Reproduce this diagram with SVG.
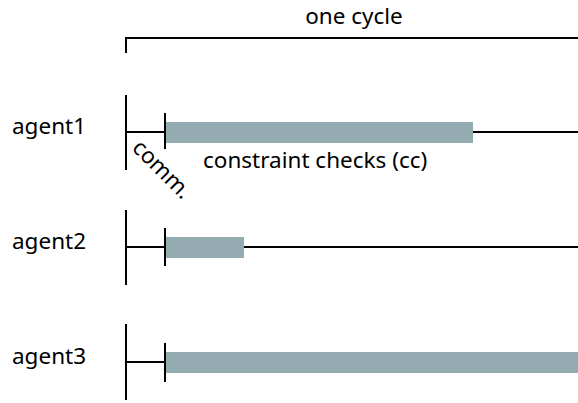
<svg xmlns="http://www.w3.org/2000/svg" width="578" height="403" viewBox="0 0 578 403">
  <style>
    .ln { stroke: #000; stroke-width: 2; fill: none; }
    .bar { fill: #94abb1; }
    .lbl { font-family: "Noto Sans", "Open Sans", sans-serif; font-size: 22.5px; fill: #000; }
  </style>
  <rect width="578" height="403" fill="#fff"/>

  <!-- cycle bracket -->
  <g id="cycle">
    <path class="ln" d="M126,53 V38 H578"/>
    <text class="lbl" x="354" y="24" text-anchor="middle">one cycle</text>
  </g>

  <g id="agent1">
    <text class="lbl" x="12" y="134">agent1</text>
    <line class="ln" x1="126" y1="95" x2="126" y2="170"/>
    <line class="ln" x1="126" y1="132" x2="165" y2="132"/>
    <line class="ln" x1="165" y1="113" x2="165" y2="149"/>
    <rect class="bar" x="166" y="122" width="307" height="21"/>
    <line class="ln" x1="473" y1="132" x2="578" y2="132"/>
    <text class="lbl" transform="translate(131,149) rotate(45)">comm.</text>
    <text class="lbl" x="203" y="168">constraint checks (cc)</text>
  </g>

  <g id="agent2">
    <text class="lbl" x="12" y="249">agent2</text>
    <line class="ln" x1="126" y1="210" x2="126" y2="285"/>
    <line class="ln" x1="126" y1="247" x2="165" y2="247"/>
    <line class="ln" x1="165" y1="228" x2="165" y2="266"/>
    <rect class="bar" x="166" y="237" width="78" height="21"/>
    <line class="ln" x1="244" y1="247" x2="578" y2="247"/>
  </g>

  <g id="agent3">
    <text class="lbl" x="12" y="364">agent3</text>
    <line class="ln" x1="126" y1="324" x2="126" y2="400"/>
    <line class="ln" x1="126" y1="362" x2="165" y2="362"/>
    <line class="ln" x1="165" y1="343" x2="165" y2="382"/>
    <rect class="bar" x="166" y="352" width="412" height="21"/>
  </g>
</svg>
